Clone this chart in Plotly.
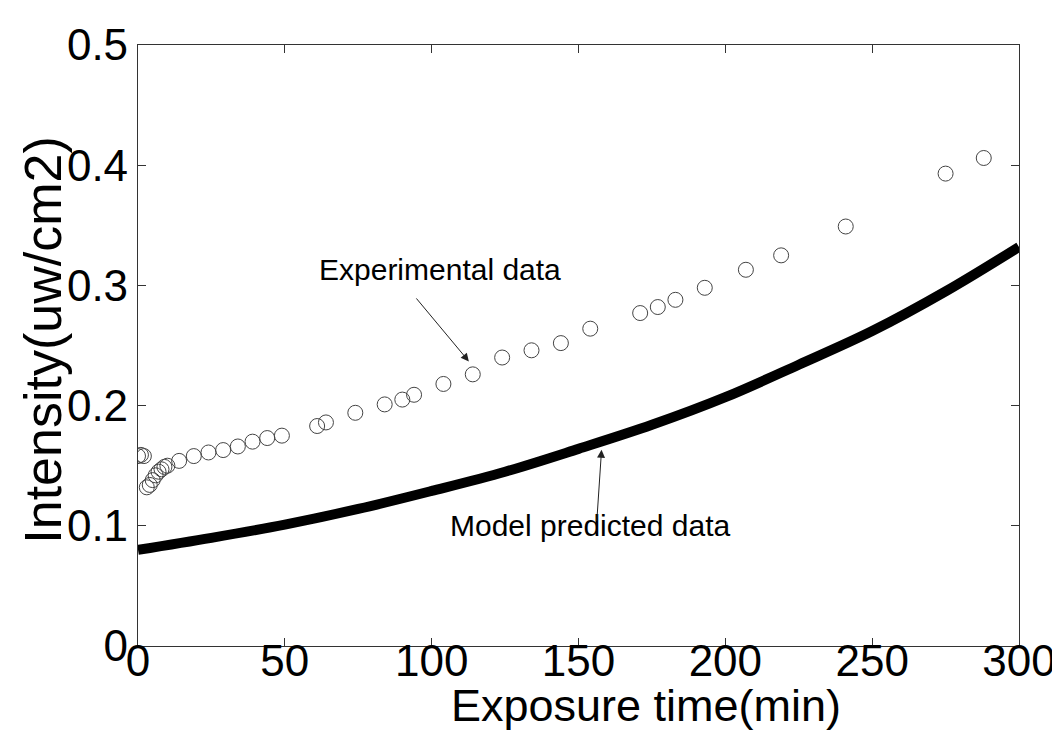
import plotly.graph_objects as go

# Experimental data (circles)
exp_time = [0, 1, 2, 3, 4, 5, 6, 7, 8, 9, 10, 14, 19, 24, 29, 34, 39, 44, 49,
            61, 64, 74, 84, 90, 94, 104, 114, 124, 134, 144, 154, 171, 177, 183,
            193, 207, 219, 241, 275, 288]
exp_intensity = [0.158, 0.159, 0.158, 0.132, 0.134, 0.138, 0.142, 0.145, 0.147,
                 0.149, 0.150, 0.154, 0.158, 0.161, 0.163, 0.166, 0.170, 0.173,
                 0.175, 0.183, 0.186, 0.194, 0.201, 0.205, 0.209, 0.218, 0.226,
                 0.240, 0.246, 0.252, 0.264, 0.277, 0.282, 0.288, 0.298, 0.313,
                 0.325, 0.349, 0.393, 0.406]

# Model predicted data (thick curve)
model_time = [0, 25, 50, 75, 100, 125, 150, 175, 200, 225, 250, 275, 300]
model_intensity = [0.080, 0.090, 0.101, 0.114, 0.129, 0.145, 0.164, 0.184,
                   0.207, 0.234, 0.262, 0.295, 0.332]

x_ticks = [0, 50, 100, 150, 200, 250, 300]
y_ticks = [0, 0.1, 0.2, 0.3, 0.4, 0.5]
y_tick_text = ["0", "0.1", "0.2", "0.3", "0.4", "0.5"]

FONT = "Liberation Sans, Arial, Helvetica, sans-serif"

fig = go.Figure()
fig.add_trace(go.Scatter(
    x=model_time, y=model_intensity, mode="lines",
    line=dict(color="black", width=10, shape="spline"),
    showlegend=False, hoverinfo="skip"))
fig.add_trace(go.Scatter(
    x=exp_time, y=exp_intensity, mode="markers",
    marker=dict(symbol="circle-open", size=15, color="#444",
                line=dict(width=1, color="#444")),
    showlegend=False))

axis_common = dict(
    showgrid=False, zeroline=False, showline=True, linecolor="#333",
    linewidth=1.2, mirror="ticks", ticks="inside", ticklen=8,
    tickcolor="#333", tickfont=dict(family=FONT, size=44, color="black"),
)
fig.update_xaxes(range=[0, 300], tickvals=x_ticks, ticklabelstandoff=-24,
                 **axis_common)
fig.update_yaxes(range=[0, 0.5], tickvals=y_ticks, ticktext=y_tick_text,
                 **axis_common)

ann_font = dict(family=FONT, size=30, color="black")
fig.update_layout(
    width=1060, height=731,
    margin=dict(l=130, r=41, t=33, b=93),
    paper_bgcolor="white", plot_bgcolor="white",
    annotations=[
        dict(x=0.577, y=0, xref="paper", yref="paper", yshift=-87,
             text="Exposure time(min)", showarrow=False, yanchor="bottom",
             font=dict(family=FONT, size=45, color="black")),
        dict(x=0, y=0.508, xref="paper", yref="paper", xshift=-95,
             text="Intensity(uw/cm2)", showarrow=False, textangle=-90,
             xanchor="center", yanchor="middle",
             font=dict(family=FONT, size=52, color="black")),
        dict(x=103, y=0.313, text="Experimental data", showarrow=False,
             font=ann_font),
        dict(x=154, y=0.100, text="Model predicted data", showarrow=False,
             font=ann_font),
        dict(x=113.1, y=0.2355, text="", showarrow=True, arrowhead=2,
             arrowsize=1.6, arrowwidth=1, arrowcolor="#222", ax=-55, ay=-66,
             standoff=2),
        dict(x=157.9, y=0.165, text="", showarrow=True, arrowhead=2,
             arrowsize=1.6, arrowwidth=1, arrowcolor="#222", ax=-5, ay=75,
             standoff=2),
    ],
)

fig.write_html("out.html")
